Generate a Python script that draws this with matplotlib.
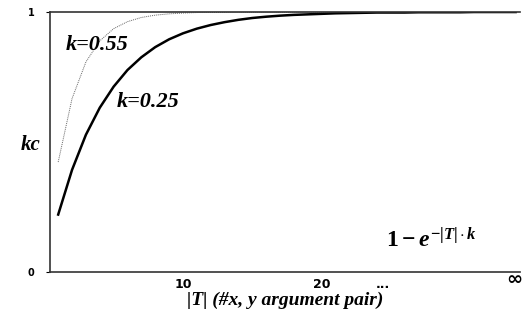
import matplotlib
matplotlib.use("Agg")
import matplotlib.pyplot as plt

# |T| values (1..34, last one stands for infinity)
T = list(range(1, 35))

# kc values
kc_055 = [0.423, 0.667, 0.808, 0.889, 0.936, 0.963, 0.979, 0.988, 0.993, 0.996,
          0.998, 0.999, 0.999, 1.0, 1.0, 1.0, 1.0, 1.0, 1.0, 1.0,
          1.0, 1.0, 1.0, 1.0, 1.0, 1.0, 1.0, 1.0, 1.0, 1.0,
          1.0, 1.0, 1.0, 1.0]
kc_025 = [0.221, 0.393, 0.528, 0.632, 0.713, 0.777, 0.826, 0.865, 0.895, 0.918,
          0.936, 0.950, 0.961, 0.970, 0.977, 0.982, 0.986, 0.989, 0.991, 0.993,
          0.995, 0.996, 0.997, 0.998, 0.998, 0.998, 0.999, 0.999, 0.999, 0.999,
          1.0, 1.0, 1.0, 1.0]

xtick_pos = [10, 20, 24.4]
xtick_labels = ["10", "20", "..."]

plt.rcParams['mathtext.fontset'] = 'custom'
plt.rcParams['mathtext.rm'] = 'Liberation Serif:bold'
plt.rcParams['mathtext.it'] = 'Liberation Serif:italic:bold'

fig = plt.figure(figsize=(5.25, 3.25), dpi=100)
ax = fig.add_axes([0.095, 0.163, 0.895, 0.8])

ax.plot(T, kc_055, color='#666666', lw=0.7, linestyle=(0, (1, 1)))
ax.plot(T, kc_025, color='black', lw=1.8)

ax.set_xlim(0.4, 34.3)
ax.set_ylim(0, 1)

# spines
ax.spines['right'].set_visible(False)
for s in ['left', 'bottom', 'top']:
    ax.spines[s].set_linewidth(1.2)
    ax.spines[s].set_color('#333333')

ax.set_yticks([0, 1])
ax.set_yticklabels(["0", "1"], fontsize=7, fontweight='bold')
ax.set_xticks(xtick_pos)
ax.set_xticklabels(xtick_labels, fontsize=9, fontweight='bold')
ax.tick_params(axis='x', length=0, pad=4)
ax.tick_params(axis='y', length=3, pad=8)

# infinity label at the last category
ax.text(33.9, -0.03, "\u221e", fontsize=14, fontweight='bold',
        ha='center', va='center', clip_on=False)

ax.set_ylabel("kc", family='Liberation Serif', style='italic', fontweight='bold',
              fontsize=15, rotation=0, va='center', ha='center')
ax.yaxis.set_label_coords(-0.04, 0.49)
ax.set_xlabel("|T| (#x, y argument pair)", family='Liberation Serif', style='italic',
              fontweight='bold', fontsize=14, va='center')
ax.xaxis.set_label_coords(0.5, -0.108)

ax.text(3.8, 0.875, "k=0.55", family='Liberation Serif', style='italic',
        fontweight='bold', fontsize=16, ha='center', va='center')
ax.text(7.5, 0.655, "k=0.25", family='Liberation Serif', style='italic',
        fontweight='bold', fontsize=16, ha='center', va='center')
ax.text(27.9, 0.125, r"$1 - e^{-|T|\cdot k}$", fontsize=17, ha='center', va='center')

plt.savefig("out.png", dpi=100)
